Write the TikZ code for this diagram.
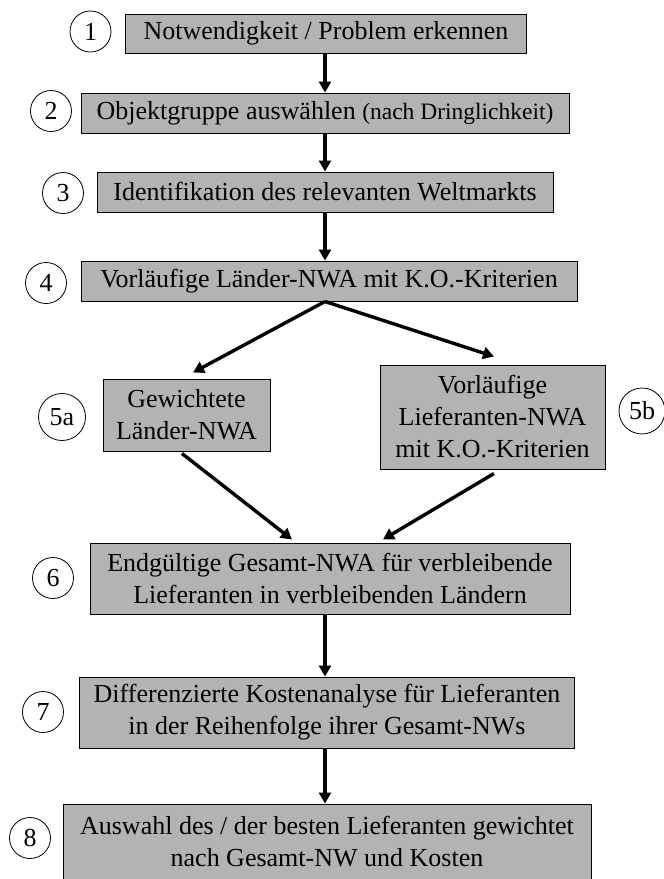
\documentclass[tikz,border=0pt]{standalone}
\usepackage{fontspec}
\setmainfont{Liberation Serif}
\usetikzlibrary{arrows.meta}
\definecolor{boxgray}{RGB}{179,179,179}
\begin{document}
\begin{tikzpicture}[x=1pt,y=-1pt,
  box/.style={draw=black, line width=1pt, fill=boxgray, inner sep=0pt, align=center,
    font=\fontsize{26}{32}\selectfont},
  num/.style={draw=black, line width=0.8pt, fill=white, circle, inner sep=0pt,
    minimum size=41pt, font=\fontsize{26}{32}\selectfont},
  arr/.style={line width=3.4pt, -{Triangle[width=12pt,length=11pt]}}]
\useasboundingbox (0,0) rectangle (664,879);

% boxes
\node[box, minimum width=401pt, minimum height=39pt] (b1) at (326,33.5) {Notwendigkeit / Problem erkennen};
\node[box, minimum width=488pt, minimum height=40pt] (b2) at (325,113) {Objektgruppe auswählen {\fontsize{23.5}{28}\selectfont (nach Dringlichkeit)}};
\node[box, minimum width=456pt, minimum height=40pt] (b3) at (325,192) {Identifikation des relevanten Weltmarkts};
\node[box, minimum width=496pt, minimum height=40pt] (b4) at (329,281) {Vorläufige Länder-NWA mit K.O.-Kriterien};
\node[box, minimum width=167pt, minimum height=72pt] (b5a) at (186.5,415) {Gewichtete\\Länder-NWA};
\node[box, minimum width=225pt, minimum height=104pt] (b5b) at (492.5,417) {Vorläufige\\Lieferanten-NWA\\mit K.O.-Kriterien};
\node[box, minimum width=480pt, minimum height=71pt] (b6) at (330,578.5) {Endgültige Gesamt-NWA für verbleibende\\Lieferanten in verbleibenden Ländern};
\node[box, minimum width=495pt, minimum height=71pt] (b7) at (327,712.5) {Differenzierte Kostenanalyse für Lieferanten\\in der Reihenfolge ihrer Gesamt-NWs};
\node[box, minimum width=528pt, minimum height=76pt] (b8) at (327,842) {Auswahl des / der besten Lieferanten gewichtet\\nach Gesamt-NW und Kosten};

% numbers
\node[num] (n1) at (90.5,31.5) {1};
\node[num] (n2) at (51,111) {2};
\node[num] (n3) at (63,193) {3};
\node[num] (n4) at (46,283) {4};
\node[num, minimum size=47pt] (n5a) at (62,417) {5a};
\node[num, minimum size=46pt] (n5b) at (642,411) {5b};
\node[num] (n6) at (53,578) {6};
\node[num] (n7) at (43,712) {7};
\node[num] (n8) at (30,838) {8};

% connectors
\draw[arr] (b2.north |- b1.south) -- (b2.north);
\draw[arr] (b2.south) -- (b3.north);
\draw[arr] (b3.south) -- (b3.south |- b4.north);
\draw[arr] (b3.south |- b4.south) -- ([shift={(6.5,-6)}]b5a.north);
\draw[arr] (b3.south |- b4.south) -- ([shift={(1.5,-8)}]b5b.north);
\draw[arr] ([shift={(-4.5,2)}]b5a.south) -- ([shift={(-38,-3)}]b6.north);
\draw[arr] ([shift={(1.5,4)}]b5b.south) -- ([shift={(53,-3)}]b6.north);
\draw[arr] (b3.south |- b6.south) -- (b3.south |- b7.north);
\draw[arr] (b3.south |- b7.south) -- (b3.south |- b8.north);
\end{tikzpicture}
\end{document}
